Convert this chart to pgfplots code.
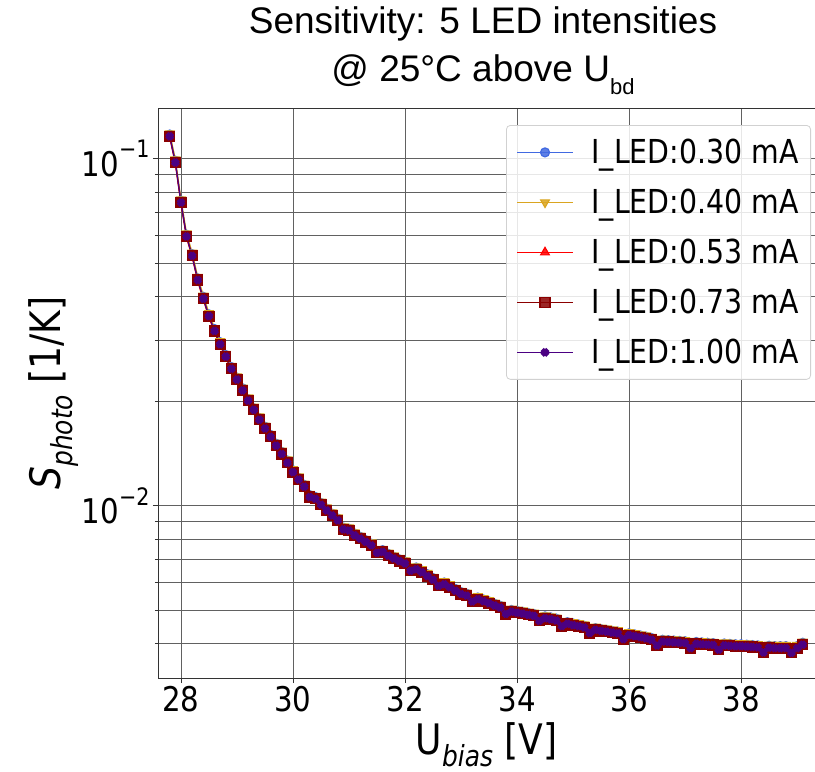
\documentclass[border=0pt]{standalone}
\usepackage{fontspec}
\usepackage{pgfplots}
\usepackage{pgfplotstable}
\pgfplotsset{compat=1.18}
\setmainfont{Liberation Sans}
\newfontfamily\dv[FakeStretch=0.86]{DejaVu Sans}
\newfontfamily\ar{Liberation Sans}
\definecolor{cblue}{HTML}{4169E1}
\definecolor{cgold}{HTML}{DAA520}
\definecolor{cred}{HTML}{FF0000}
\definecolor{cdred}{HTML}{8B0000}
\definecolor{cind}{HTML}{4B0082}
\newcommand\tenpow[1]{10\raisebox{0.55em}{\fontsize{24}{24}\selectfont −#1}}
\pgfplotstableread{
x a b c d e
27.8 117.4e-3 118.3e-3 115.1e-3 116.0e-3 116.0e-3
27.9 98.7e-3 99.5e-3 96.7e-3 97.5e-3 97.5e-3
28.0 75.7e-3 76.3e-3 74.2e-3 74.8e-3 74.8e-3
28.1 60.4e-3 60.9e-3 59.2e-3 59.7e-3 59.7e-3
28.2 53.1e-3 53.6e-3 52.1e-3 52.5e-3 52.5e-3
28.3 45.2e-3 45.6e-3 44.3e-3 44.7e-3 44.7e-3
28.4 40.0e-3 40.3e-3 39.2e-3 39.5e-3 39.5e-3
28.5 35.6e-3 35.9e-3 34.9e-3 35.2e-3 35.2e-3
28.6 32.3e-3 32.5e-3 31.6e-3 31.9e-3 31.9e-3
28.7 29.6e-3 29.8e-3 29.0e-3 29.2e-3 29.2e-3
28.8 27.2e-3 27.4e-3 26.7e-3 26.9e-3 26.9e-3
28.9 25.1e-3 25.3e-3 24.6e-3 24.8e-3 24.8e-3
29.0 23.4e-3 23.6e-3 22.9e-3 23.1e-3 23.1e-3
29.1 21.8e-3 21.9e-3 21.3e-3 21.5e-3 21.5e-3
29.2 20.3e-3 20.5e-3 19.9e-3 20.1e-3 20.1e-3
29.3 19.1e-3 19.3e-3 18.7e-3 18.9e-3 18.9e-3
29.4 17.9e-3 18.1e-3 17.6e-3 17.7e-3 17.7e-3
29.5 16.9e-3 17.0e-3 16.6e-3 16.7e-3 16.7e-3
29.6 16.0e-3 16.1e-3 15.7e-3 15.8e-3 15.8e-3
29.7 15.1e-3 15.2e-3 14.8e-3 14.9e-3 14.9e-3
29.8 14.3e-3 14.4e-3 14.0e-3 14.1e-3 14.1e-3
29.9 13.5e-3 13.6e-3 13.2e-3 13.3e-3 13.3e-3
30.0 12.65e-3 12.75e-3 12.40e-3 12.5e-3 12.5e-3
30.1 12.04e-3 12.14e-3 11.80e-3 11.9e-3 11.9e-3
30.2 11.49e-3 11.58e-3 11.26e-3 11.35e-3 11.35e-3
30.3 10.73e-3 10.81e-3 10.52e-3 10.6e-3 10.6e-3
30.4 10.60e-3 10.68e-3 10.39e-3 10.47e-3 10.47e-3
30.5 10.19e-3 10.27e-3 9.99e-3 10.07e-3 10.07e-3
30.6 9.82e-3 9.89e-3 9.62e-3 9.70e-3 9.70e-3
30.7 9.49e-3 9.57e-3 9.30e-3 9.38e-3 9.38e-3
30.8 9.19e-3 9.26e-3 9.01e-3 9.08e-3 9.08e-3
30.9 8.65e-3 8.72e-3 8.48e-3 8.55e-3 8.55e-3
31.0 8.59e-3 8.66e-3 8.42e-3 8.49e-3 8.49e-3
31.1 8.32e-3 8.38e-3 8.15e-3 8.22e-3 8.22e-3
31.2 8.14e-3 8.20e-3 7.98e-3 8.04e-3 8.04e-3
31.3 7.96e-3 8.03e-3 7.81e-3 7.87e-3 7.87e-3
31.4 7.78e-3 7.84e-3 7.63e-3 7.69e-3 7.69e-3
31.5 7.41e-3 7.47e-3 7.26e-3 7.32e-3 7.32e-3
31.6 7.45e-3 7.51e-3 7.30e-3 7.36e-3 7.36e-3
31.7 7.27e-3 7.32e-3 7.12e-3 7.18e-3 7.18e-3
31.8 7.13e-3 7.19e-3 6.99e-3 7.05e-3 7.05e-3
31.9 7.01e-3 7.07e-3 6.87e-3 6.93e-3 6.93e-3
32.0 6.90e-3 6.96e-3 6.77e-3 6.82e-3 6.82e-3
32.1 6.58e-3 6.63e-3 6.45e-3 6.50e-3 6.50e-3
32.2 6.64e-3 6.69e-3 6.51e-3 6.56e-3 6.56e-3
32.3 6.51e-3 6.56e-3 6.38e-3 6.43e-3 6.43e-3
32.4 6.35e-3 6.40e-3 6.22e-3 6.27e-3 6.27e-3
32.5 6.19e-3 6.24e-3 6.07e-3 6.12e-3 6.12e-3
32.6 5.95e-3 6.00e-3 5.83e-3 5.88e-3 5.88e-3
32.7 6.01e-3 6.06e-3 5.89e-3 5.94e-3 5.94e-3
32.8 5.89e-3 5.94e-3 5.77e-3 5.82e-3 5.82e-3
32.9 5.76e-3 5.80e-3 5.64e-3 5.69e-3 5.69e-3
33.0 5.64e-3 5.68e-3 5.53e-3 5.57e-3 5.57e-3
33.1 5.58e-3 5.62e-3 5.47e-3 5.51e-3 5.51e-3
33.2 5.36e-3 5.41e-3 5.26e-3 5.30e-3 5.30e-3
33.3 5.44e-3 5.49e-3 5.34e-3 5.38e-3 5.38e-3
33.4 5.37e-3 5.42e-3 5.27e-3 5.31e-3 5.31e-3
33.5 5.30e-3 5.34e-3 5.20e-3 5.24e-3 5.24e-3
33.6 5.22e-3 5.26e-3 5.12e-3 5.16e-3 5.16e-3
33.7 5.15e-3 5.19e-3 5.05e-3 5.09e-3 5.09e-3
33.8 4.94e-3 4.98e-3 4.84e-3 4.88e-3 4.88e-3
33.9 5.01e-3 5.05e-3 4.91e-3 4.95e-3 4.95e-3
34.0 4.98e-3 5.02e-3 4.88e-3 4.92e-3 4.92e-3
34.1 4.95e-3 4.99e-3 4.85e-3 4.89e-3 4.89e-3
34.2 4.91e-3 4.95e-3 4.81e-3 4.85e-3 4.85e-3
34.3 4.88e-3 4.92e-3 4.78e-3 4.82e-3 4.82e-3
34.4 4.72e-3 4.75e-3 4.62e-3 4.66e-3 4.66e-3
34.5 4.80e-3 4.83e-3 4.70e-3 4.74e-3 4.74e-3
34.6 4.77e-3 4.80e-3 4.67e-3 4.71e-3 4.71e-3
34.7 4.73e-3 4.76e-3 4.63e-3 4.67e-3 4.67e-3
34.8 4.55e-3 4.59e-3 4.46e-3 4.50e-3 4.50e-3
34.9 4.62e-3 4.66e-3 4.53e-3 4.57e-3 4.57e-3
35.0 4.58e-3 4.62e-3 4.49e-3 4.53e-3 4.53e-3
35.1 4.55e-3 4.59e-3 4.46e-3 4.50e-3 4.50e-3
35.2 4.51e-3 4.55e-3 4.42e-3 4.46e-3 4.46e-3
35.3 4.35e-3 4.39e-3 4.27e-3 4.30e-3 4.30e-3
35.4 4.44e-3 4.48e-3 4.35e-3 4.39e-3 4.39e-3
35.5 4.41e-3 4.45e-3 4.33e-3 4.36e-3 4.36e-3
35.6 4.39e-3 4.43e-3 4.31e-3 4.34e-3 4.34e-3
35.7 4.36e-3 4.40e-3 4.28e-3 4.31e-3 4.31e-3
35.8 4.34e-3 4.38e-3 4.26e-3 4.29e-3 4.29e-3
35.9 4.18e-3 4.21e-3 4.10e-3 4.13e-3 4.13e-3
36.0 4.29e-3 4.32e-3 4.21e-3 4.24e-3 4.24e-3
36.1 4.26e-3 4.29e-3 4.18e-3 4.21e-3 4.21e-3
36.2 4.23e-3 4.26e-3 4.15e-3 4.18e-3 4.18e-3
36.3 4.20e-3 4.23e-3 4.12e-3 4.15e-3 4.15e-3
36.4 4.16e-3 4.19e-3 4.08e-3 4.11e-3 4.11e-3
36.5 4.01e-3 4.04e-3 3.93e-3 3.96e-3 3.96e-3
36.6 4.11e-3 4.14e-3 4.03e-3 4.06e-3 4.06e-3
36.7 4.10e-3 4.13e-3 4.02e-3 4.05e-3 4.05e-3
36.8 4.09e-3 4.12e-3 4.01e-3 4.04e-3 4.04e-3
36.9 4.08e-3 4.11e-3 4.00e-3 4.03e-3 4.03e-3
37.0 4.07e-3 4.10e-3 3.99e-3 4.02e-3 4.02e-3
37.1 3.94e-3 3.97e-3 3.86e-3 3.89e-3 3.89e-3
37.2 4.05e-3 4.08e-3 3.97e-3 4.00e-3 4.00e-3
37.3 4.04e-3 4.07e-3 3.96e-3 3.99e-3 3.99e-3
37.4 4.03e-3 4.06e-3 3.95e-3 3.98e-3 3.98e-3
37.5 4.02e-3 4.05e-3 3.94e-3 3.97e-3 3.97e-3
37.6 3.90e-3 3.93e-3 3.82e-3 3.85e-3 3.85e-3
37.7 4.01e-3 4.04e-3 3.93e-3 3.96e-3 3.96e-3
37.8 4.00e-3 4.03e-3 3.92e-3 3.95e-3 3.95e-3
37.9 3.99e-3 4.02e-3 3.91e-3 3.94e-3 3.94e-3
38.0 3.99e-3 4.02e-3 3.91e-3 3.94e-3 3.94e-3
38.1 3.98e-3 4.01e-3 3.90e-3 3.93e-3 3.93e-3
38.2 3.97e-3 4.00e-3 3.89e-3 3.92e-3 3.92e-3
38.3 3.96e-3 3.99e-3 3.88e-3 3.91e-3 3.91e-3
38.4 3.83e-3 3.86e-3 3.75e-3 3.78e-3 3.78e-3
38.5 3.95e-3 3.98e-3 3.87e-3 3.90e-3 3.90e-3
38.6 3.94e-3 3.97e-3 3.86e-3 3.89e-3 3.89e-3
38.7 3.94e-3 3.97e-3 3.86e-3 3.89e-3 3.89e-3
38.8 3.94e-3 3.97e-3 3.86e-3 3.89e-3 3.89e-3
38.9 3.82e-3 3.85e-3 3.74e-3 3.77e-3 3.77e-3
39.0 3.94e-3 3.97e-3 3.86e-3 3.89e-3 3.89e-3
39.1 4.03e-3 4.06e-3 3.95e-3 3.98e-3 3.98e-3
}\data
\begin{document}
\begin{tikzpicture}
\begin{axis}[name=ax, width=657pt, height=570pt, scale only axis,
  ymode=log, xmin=27.59, xmax=39.32, ymin=3.19e-3, ymax=0.140,
  xtick={28,30,32,34,36,38}, xticklabels={28,30,32,34,36,38},
  ytick={0.01,0.1}, yticklabels={\tenpow{2},\tenpow{1}},
  minor ytick={0.004,0.005,0.006,0.007,0.008,0.009,0.02,0.03,0.04,0.05,0.06,0.07,0.08,0.09},
  xmajorgrids, ymajorgrids, yminorgrids,
  grid style={black!62, line width=0.9pt},
  minor grid style={black!62, line width=0.9pt},
  axis line style={black!80, line width=0.9pt},
  tick align=outside, xtick pos=bottom, ytick pos=left,
  major tick length=5pt, minor tick length=3pt,
  tick style={black!80, line width=0.9pt},
  ticklabel style={font=\dv\fontsize{34}{40}\selectfont},
  xlabel={U\raisebox{-0.3em}{\fontsize{29}{29}\selectfont\itshape bias} [V]},
  xlabel style={yshift=-3pt},
  ylabel={{\itshape S\raisebox{-0.3em}{\fontsize{29}{29}\selectfont photo}} [1/K]},
  ylabel style={yshift=-4pt},
  label style={font=\dv\fontsize{42}{48}\selectfont},
  legend cell align=left,
  legend style={at={(1,1)}, anchor=north east, xshift=-4pt, yshift=-17pt,
    draw=black!18, line width=0.8pt, rounded corners=4pt, fill=white,
    fill opacity=0.85, text opacity=1, draw opacity=1,
    font=\dv\fontsize{33}{38}\selectfont, row sep=20pt, column sep=16pt,
    inner xsep=10pt, inner ysep=12pt, nodes={inner sep=2pt}},
  legend image code/.code={\draw[mark repeat=2,mark phase=2,#1] plot coordinates {(0pt,0pt) (28pt,0pt) (56pt,0pt)};},
]
\addplot[cblue, line width=1.2pt, mark=*, mark size=4.5pt, mark options={solid, fill=cblue, draw=cblue, sharp corners}] table[x=x,y=a]{\data};
\addlegendentry{I\_LED:0.30 mA}
\addplot[cgold, line width=1.2pt, mark=triangle*, mark size=5pt, mark options={solid, rotate=180, fill=cgold, draw=cgold, sharp corners}] table[x=x,y=b]{\data};
\addlegendentry{I\_LED:0.40 mA}
\addplot[cred, line width=1.2pt, mark=triangle*, mark size=5pt, mark options={solid, fill=cred, draw=cred, sharp corners}] table[x=x,y=c]{\data};
\addlegendentry{I\_LED:0.53 mA}
\addplot[cdred, line width=1.2pt, mark=square*, mark size=5pt, mark options={solid, fill=cdred, draw=cdred, sharp corners}] table[x=x,y=d]{\data};
\addlegendentry{I\_LED:0.73 mA}
\addplot[cind, line width=1.2pt, mark=x, mark size=4pt, mark options={solid, line width=4.5pt, draw=cind, sharp corners}] table[x=x,y=e]{\data};
\addlegendentry{I\_LED:1.00 mA}
\end{axis}
\node[anchor=base, font=\ar\fontsize{37}{44}\selectfont] at ([xshift=325pt,yshift=74pt]ax.north west) {Sensitivity: 5 LED intensities};
\node[anchor=base, font=\ar\fontsize{37}{44}\selectfont] at ([xshift=325pt,yshift=26pt]ax.north west) {@ 25°C above U\raisebox{-0.35em}{\fontsize{22}{22}\selectfont bd}};
\pgfresetboundingbox
\path[use as bounding box] ([xshift=-158pt,yshift=-94pt]ax.south west) rectangle ([yshift=108pt]ax.north east);
\end{tikzpicture}
\end{document}
